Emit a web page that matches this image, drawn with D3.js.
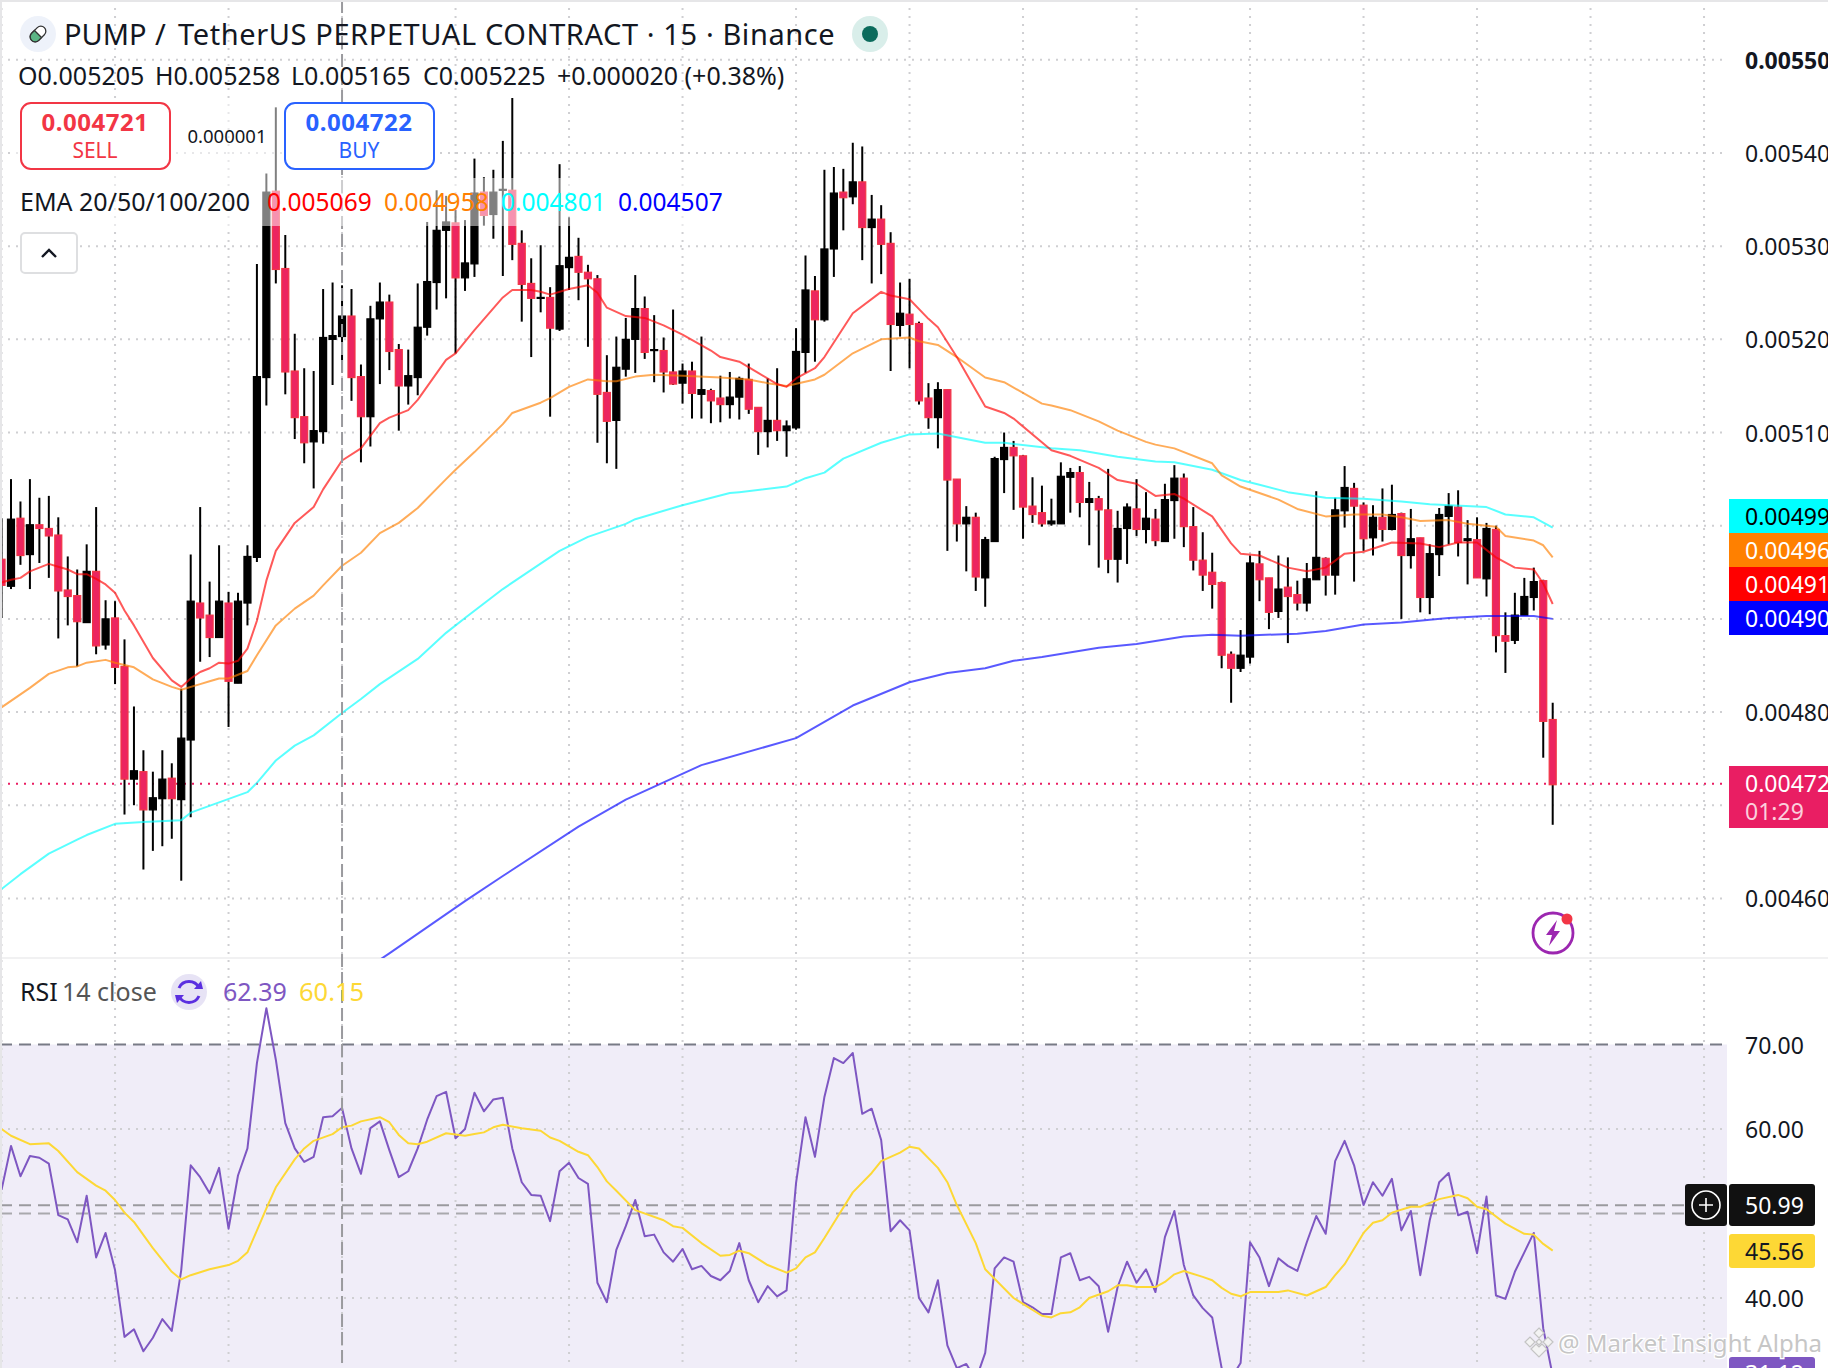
<!DOCTYPE html>
<html>
<head>
<meta charset="utf-8">
<script src="https://cdn.jsdelivr.net/npm/d3@7"></script>
<style>
html, body { margin: 0; padding: 0; background: #fff; overflow: hidden; }
text { font-family: "Noto Sans", sans-serif; }
</style>
</head>
<body>
<script>
// all prices are in millionths, 5400 = 0.005400
var firstBar = -1;
var opens = [4964,4935,5008,4969,5001,4997,4990,4931,4925,4896,4951,4872,4901,4849,4728,4736,4695,4707,4729,4706,4770,4917,4904,4880,4917,4831,4917,4966,5159,5359,5276,5166,5117,5090,5101,5200,5203,5225,5160,5117,5222,5240,5189,5150,5159,5213,5261,5317,5325,5266,5281,5358,5334,5360,5360,5303,5260,5244,5245,5211,5277,5289,5272,5265,5143,5113,5168,5200,5233,5188,5188,5165,5153,5166,5141,5145,5137,5130,5138,5157,5127,5101,5113,5102,5105,5186,5252,5221,5297,5358,5353,5369,5320,5329,5303,5215,5227,5217,5137,5116,5146,5050,5002,5009,4944,4983,5071,5084,5075,5021,5014,5002,5002,5052,5057,5025,5029,5017,4964,4997,5018,4996,5007,4983,5027,5051,4999,4963,4950,4939,4862,4847,4859,4959,4944,4908,4934,4926,4917,4942,4965,4947,5016,5040,5022,4987,5009,4996,5013,4968,4987,4923,4969,5010,5020,4984,4985,4943,4996,4882,4877,4904,4923,4941,4792];
var highs = [5008,5050,5026,5050,5030,5032,5009,4967,4953,4980,5020,4920,4919,4878,4806,4759,4736,4759,4745,4825,4969,5020,4940,4979,4929,4928,4979,5281,5378,5449,5312,5206,5169,5166,5254,5261,5258,5254,5173,5236,5261,5248,5195,5189,5260,5326,5360,5354,5339,5328,5394,5374,5382,5413,5459,5317,5287,5301,5256,5388,5331,5309,5280,5269,5183,5203,5223,5269,5246,5226,5202,5232,5174,5176,5203,5147,5161,5165,5160,5174,5127,5158,5169,5113,5212,5290,5268,5382,5385,5383,5411,5407,5355,5344,5315,5261,5265,5219,5153,5154,5146,5050,5021,5014,4988,5074,5100,5091,5076,5052,5043,5029,5068,5062,5064,5047,5032,5061,5016,5024,5050,5036,5018,5045,5065,5056,5020,4993,4971,4940,4865,4888,4968,4973,4944,4968,4966,4941,4960,5037,4966,5030,5064,5046,5025,5022,5040,5044,5014,5018,4987,4980,5019,5035,5038,5006,5009,5003,5000,4907,4928,4944,4955,4942,4810];
var lows = [4901,4932,4958,4932,4960,4944,4879,4893,4849,4896,4862,4867,4830,4690,4700,4631,4651,4656,4664,4619,4687,4854,4859,4880,4784,4831,4893,4961,5129,5260,5141,5093,5067,5040,5088,5151,5165,5134,5068,5085,5152,5167,5102,5130,5140,5204,5232,5244,5185,5252,5267,5322,5308,5268,5285,5219,5181,5229,5117,5209,5253,5242,5192,5089,5067,5061,5160,5164,5179,5154,5143,5151,5131,5115,5115,5110,5111,5115,5114,5120,5076,5084,5091,5074,5103,5164,5176,5219,5267,5317,5345,5285,5260,5270,5166,5203,5169,5130,5104,5083,4973,4983,4951,4930,4913,4983,5035,5017,4986,5003,4999,5000,5002,5014,5009,4979,4955,4949,4939,4959,4989,4981,4978,4983,4986,4977,4952,4930,4911,4847,4810,4843,4852,4919,4889,4901,4874,4909,4908,4942,4925,4926,4998,4940,4973,4968,4983,4995,4900,4954,4907,4905,4946,4980,4967,4937,4944,4924,4864,4842,4873,4904,4909,4751,4679];
var closes = [4936,5007,4968,5001,4997,4989,4930,4924,4897,4951,4871,4900,4848,4728,4737,4695,4708,4728,4707,4772,4919,4901,4880,4919,4833,4919,4967,5160,5358,5275,5165,5116,5089,5102,5202,5204,5225,5159,5117,5222,5240,5187,5150,5161,5213,5262,5317,5326,5266,5282,5357,5333,5358,5361,5302,5259,5244,5245,5212,5279,5288,5272,5265,5141,5112,5170,5200,5233,5186,5189,5165,5152,5166,5142,5146,5134,5130,5138,5158,5125,5101,5113,5102,5107,5187,5253,5221,5297,5357,5352,5369,5320,5329,5302,5216,5228,5216,5134,5116,5146,5049,5002,5009,4945,4985,5072,5084,5075,5020,5012,5002,5005,5053,5057,5025,5029,5017,4964,4997,5020,4996,5008,4984,5028,5051,4999,4963,4947,4937,4861,4847,4861,4960,4942,4907,4932,4924,4917,4943,4966,4947,5017,5041,5021,4986,5009,4996,5012,4968,4986,4923,4970,5012,5021,4982,4986,4944,4997,4882,4876,4904,4924,4940,4790,4722];
var lastPrice = 4723;

var ema20Bars = [-1,0,1,2,4,5,6,7,8,9,10,11,12,13,15,17,18,19,20,21,22,23,24,25,26,27,28,30,32,33,35,37,39,40,42,43,46,47,49,52,53,55,56,57,59,61,62,63,65,67,69,71,74,75,77,79,81,82,83,85,86,89,92,93,95,97,98,100,103,105,106,110,112,115,117,119,121,123,124,127,129,130,132,135,137,139,141,143,146,149,151,153,155,157,159,161,162,163];
var ema20 = [4939,4942,4944,4951,4959,4956,4953,4948,4948,4943,4937,4928,4909,4893,4858,4834,4827,4836,4843,4847,4853,4852,4855,4868,4898,4941,4973,5003,5020,5039,5070,5083,5110,5116,5124,5135,5178,5185,5210,5245,5253,5253,5251,5248,5254,5258,5250,5234,5225,5223,5215,5205,5188,5181,5176,5164,5152,5149,5158,5169,5181,5228,5251,5247,5243,5222,5213,5181,5128,5121,5115,5081,5075,5062,5049,5045,5032,5034,5029,5010,4981,4970,4968,4955,4951,4955,4970,4972,4982,4981,4977,4982,4982,4966,4955,4953,4938,4916];
var ema50Bars = [-1,2,4,6,7,8,10,11,13,15,17,18,20,21,22,23,25,26,28,30,32,33,35,37,39,41,43,46,47,49,52,53,56,57,59,61,63,64,66,68,71,75,78,80,82,85,86,89,92,95,96,98,100,103,105,109,110,112,115,117,120,121,123,127,128,130,134,136,139,142,145,147,149,152,154,157,158,161,162,163];
var ema50 = [4805,4826,4841,4848,4849,4853,4856,4853,4848,4835,4827,4824,4830,4833,4836,4836,4844,4861,4893,4911,4925,4936,4957,4971,4992,5003,5019,5050,5060,5079,5109,5121,5132,5137,5149,5157,5155,5155,5160,5162,5161,5159,5157,5153,5150,5157,5162,5185,5200,5202,5198,5194,5181,5159,5154,5131,5129,5124,5112,5102,5090,5087,5083,5067,5054,5042,5028,5018,5010,5012,5012,5009,5005,5006,5002,4999,4989,4984,4979,4966];
var ema100Bars = [-1,1,4,7,8,11,14,18,19,22,25,26,28,30,32,35,37,39,43,46,48,52,58,61,65,66,71,76,77,82,84,86,88,92,95,98,103,105,110,113,117,121,123,127,130,132,135,139,143,147,150,156,158,161,163];
var ema100 = [4610,4626,4648,4663,4668,4680,4682,4684,4692,4703,4714,4724,4748,4764,4775,4799,4814,4830,4857,4885,4901,4932,4973,4988,5002,5007,5022,5035,5036,5042,5051,5057,5072,5089,5098,5099,5089,5089,5083,5081,5074,5069,5068,5060,5049,5044,5036,5030,5029,5026,5023,5020,5012,5009,4998];
var ema200Bars = [35,40,48,52,60,65,73,83,89,95,99,103,106,109,115,119,124,127,130,136,139,143,147,150,152,156,161,163];
var ema200 = [4507,4541,4597,4624,4677,4706,4743,4772,4807,4832,4842,4847,4855,4859,4869,4873,4881,4883,4882,4884,4887,4894,4896,4899,4901,4903,4903,4900];

var rsi = [52.8,58.0,54.4,56.8,56.6,55.9,49.8,49.3,46.6,52.1,44.8,47.7,43.3,35.4,36.3,33.7,35.3,37.5,36.1,43.3,55.7,54.3,52.4,55.4,48.2,54.5,57.7,67.8,74.3,68.2,60.7,57.7,56.1,56.7,61.4,61.5,62.5,57.7,54.7,60.1,60.9,57.5,54.3,55.0,57.7,61.1,63.9,64.4,58.9,60.0,64.3,62.1,63.5,63.7,57.7,53.7,52.2,52.1,49.1,55.0,56.0,54.2,53.5,41.8,39.5,45.7,48.5,51.6,47.3,47.5,45.4,44.3,45.8,43.4,43.8,42.6,42.1,43.2,46.5,42.1,39.5,41.4,40.2,40.9,53.6,61.4,56.7,63.8,68.4,67.8,69.0,61.8,62.4,58.7,47.9,49.2,48.0,40.0,38.3,42.1,34.4,31.7,32.2,30.3,33.5,43.5,44.8,44.3,39.5,38.9,38.1,38.1,44.8,45.3,42.1,42.5,41.4,36.0,41.3,44.3,41.8,43.4,40.7,47.2,50.3,43.9,40.3,38.8,37.7,31.7,30.5,32.3,46.6,44.8,41.4,44.7,43.8,43.2,46.6,49.7,47.6,56.2,58.6,55.7,51.0,53.7,52.1,54.1,48.0,50.3,42.7,49.2,53.7,54.8,49.8,50.2,45.3,52.0,40.3,39.9,43.1,45.4,47.7,36.4,30.8];
var rsiMaBars = [-1,0,2,4,5,7,9,10,11,12,13,15,17,18,19,21,23,24,25,27,28,30,31,32,34,35,36,37,39,40,41,42,43,44,46,48,49,50,51,52,54,56,57,58,60,61,62,63,64,66,69,70,71,73,75,76,77,78,80,82,83,84,85,86,87,89,91,92,94,95,96,98,99,100,102,103,106,109,110,111,112,113,114,116,117,118,119,121,122,123,124,126,127,128,129,130,131,134,135,137,138,139,140,141,143,144,145,146,148,149,151,153,154,155,156,158,160,161,162,163];
var rsiMa = [60.0,59.2,58.2,58.3,57.4,54.9,53.3,52.7,51.6,50.1,49.0,45.9,43.1,42.2,42.7,43.4,43.9,44.4,45.4,50.6,53.1,56.4,57.7,58.6,59.4,60.2,60.4,60.9,61.4,60.8,59.3,58.3,58.2,58.5,59.5,59.2,59.4,59.6,60.2,60.5,60.1,59.8,59.0,58.6,57.3,56.9,55.5,53.8,52.7,50.4,49.2,48.5,48.3,46.5,45.0,45.1,45.6,45.3,43.9,43.0,43.5,44.8,45.4,47.1,48.9,52.5,54.8,56.2,57.2,57.9,57.7,55.4,53.7,51.0,46.5,43.4,40.0,37.9,37.7,38.2,38.3,38.9,40.0,40.8,41.5,41.5,41.3,41.3,41.9,42.8,43.2,42.5,42.1,41.2,40.5,40.2,40.7,40.7,40.9,40.3,40.8,41.3,42.7,44.0,47.7,48.9,49.2,50.1,50.8,50.8,51.7,52.2,51.8,50.8,50.5,48.8,47.6,47.5,46.4,45.6];

var priceTicks = [4600,4800,5100,5200,5300,5400,5500];
var priceGrid = [4600,4700,4800,4900,5000,5100,5200,5300,5400,5500];
var rsiTicks = [70,60,40];
var rsiGrid = [60,40];
var emaTagLabels = ["0.00499","0.00496","0.00491","0.00490"];
var emaTagFills = ["#00ffff","#ff8000","#ff0000","#0000ff"];
var emaTagText = ["#000","#fff","#fff","#fff"];

var W = 1828, H = 1368;
var paneBottom = 958, axisLeft = 1727;

var svg = d3.select("body").append("svg").attr("width", W).attr("height", H).style("display", "block");
var defs = svg.append("defs");
defs.append("clipPath").attr("id", "pricePane").append("rect").attr("x", 2).attr("y", 0).attr("width", axisLeft - 2).attr("height", paneBottom);
defs.append("clipPath").attr("id", "rsiPane").append("rect").attr("x", 2).attr("y", paneBottom).attr("width", axisLeft - 2).attr("height", H - paneBottom);

var bars = d3.range(firstBar, firstBar + opens.length);
var x = d3.scaleLinear().domain([-1, 163]).range([1.54, 1552.7]);
var y = d3.scaleLinear().domain([4600, 5400]).range([898.4, 153]);
var yRsi = d3.scaleLinear().domain([40, 70]).range([1298, 1044.5]);

// band first, grid goes on top of it
svg.append("rect").attr("x", 2).attr("y", yRsi(70)).attr("width", axisLeft - 2).attr("height", H - yRsi(70)).attr("fill", "#f0edf8");

var gridBars = d3.range(-1, 190, 12);
var grid = svg.append("g").attr("stroke", "#cfcfd2").attr("stroke-width", 2).attr("stroke-dasharray", "2 6");
grid.selectAll("line.v").data(gridBars).enter().append("line").attr("class", "v")
    .attr("x1", d => x(d)).attr("x2", d => x(d)).attr("y1", 0).attr("y2", H);
grid.selectAll("line.h").data(priceGrid).enter().append("line").attr("class", "h")
    .attr("x1", 0).attr("x2", axisLeft).attr("y1", d => y(d)).attr("y2", d => y(d));
grid.selectAll("line.r").data(rsiGrid).enter().append("line").attr("class", "r")
    .attr("x1", 0).attr("x2", axisLeft).attr("y1", d => yRsi(d)).attr("y2", d => yRsi(d));

// pane divider
svg.append("line").attr("x1", 0).attr("x2", W).attr("y1", paneBottom).attr("y2", paneBottom).attr("stroke", "#ececee").attr("stroke-width", 1.5);

// last price line
svg.append("line").attr("x1", 0).attr("x2", axisLeft).attr("y1", y(lastPrice)).attr("y2", y(lastPrice))
    .attr("stroke", "#e91e63").attr("stroke-width", 2).attr("stroke-dasharray", "2 6");

// rsi levels
svg.append("line").attr("x1", 0).attr("x2", axisLeft).attr("y1", yRsi(70)).attr("y2", yRsi(70)).attr("stroke", "#787b86").attr("stroke-width", 2).attr("stroke-dasharray", "12 7");
svg.append("line").attr("x1", 0).attr("x2", axisLeft).attr("y1", yRsi(50)).attr("y2", yRsi(50)).attr("stroke", "#a9a9ad").attr("stroke-width", 2).attr("stroke-dasharray", "12 7");
svg.append("line").attr("x1", 0).attr("x2", axisLeft).attr("y1", yRsi(50.99)).attr("y2", yRsi(50.99)).attr("stroke", "#9a9a9e").attr("stroke-width", 2).attr("stroke-dasharray", "12 7");

// candles
var candles = svg.append("g").attr("clip-path", "url(#pricePane)");
var candle = candles.selectAll("g").data(bars).enter().append("g");
candle.append("line")
    .attr("x1", d => x(d)).attr("x2", d => x(d))
    .attr("y1", (d, i) => y(highs[i])).attr("y2", (d, i) => y(lows[i]))
    .attr("stroke", "#000").attr("stroke-width", 2);
candle.append("rect")
    .attr("x", d => x(d) - 3.5).attr("width", 7)
    .attr("y", (d, i) => y(Math.max(opens[i], closes[i])))
    .attr("height", (d, i) => Math.max(1, Math.abs(y(opens[i]) - y(closes[i]))))
    .attr("fill", (d, i) => closes[i] < opens[i] ? "#ec2560" : "#000")
    .attr("stroke", (d, i) => closes[i] < opens[i] ? "#f23645" : "#000")
    .attr("stroke-width", 1.2);

// moving averages
var line = d3.line().x(d => x(d[0])).y(d => y(d[1]));
var emaGroup = svg.append("g").attr("clip-path", "url(#pricePane)").attr("fill", "none").attr("stroke-width", 2).attr("stroke-linejoin", "round");
emaGroup.append("path").attr("d", line(d3.zip(ema200Bars, ema200))).attr("stroke", "rgba(0,0,255,0.65)");
emaGroup.append("path").attr("d", line(d3.zip(ema100Bars, ema100))).attr("stroke", "rgba(0,255,255,0.65)");
emaGroup.append("path").attr("d", line(d3.zip(ema50Bars, ema50))).attr("stroke", "rgba(255,128,0,0.65)");
emaGroup.append("path").attr("d", line(d3.zip(ema20Bars, ema20))).attr("stroke", "rgba(255,0,0,0.65)");

// rsi lines
var rsiLine = d3.line().x(d => x(d[0])).y(d => yRsi(d[1]));
var rsiGroup = svg.append("g").attr("clip-path", "url(#rsiPane)").attr("fill", "none").attr("stroke-width", 2).attr("stroke-linejoin", "round");
rsiGroup.append("path").attr("d", rsiLine(d3.zip(bars, rsi))).attr("stroke", "#7e57c2");
rsiGroup.append("path").attr("d", rsiLine(d3.zip(rsiMaBars, rsiMa))).attr("stroke", "#fdd835");

// crosshair
svg.append("line").attr("x1", x(35)).attr("x2", x(35)).attr("y1", 0).attr("y2", H)
    .attr("stroke", "#9a9a9e").attr("stroke-width", 2).attr("stroke-dasharray", "13 5");

// window border
svg.append("rect").attr("x", 0).attr("y", 0).attr("width", 2).attr("height", H).attr("fill", "#e6e6e8");
svg.append("rect").attr("x", 0).attr("y", 0).attr("width", W).attr("height", 2).attr("fill", "#e6e6e8");

// legend veils dim the candles that run behind the header
var veil = svg.append("g").attr("fill", "rgba(255,255,255,0.5)");
veil.append("rect").attr("x", 15).attr("y", 178).attr("width", 712).attr("height", 48);
veil.append("rect").attr("x", 15).attr("y", 100).attr("width", 270).attr("height", 78);

function label(g, s, px, py, size, color, weight, anchor) {
    return g.append("text").attr("x", px).attr("y", py).attr("font-size", size).attr("fill", color)
        .attr("font-weight", weight || 400).attr("text-anchor", anchor || "start").text(s);
}

// header
var head = svg.append("g");
head.append("circle").attr("cx", 38).attr("cy", 34).attr("r", 18).attr("fill", "#eef2fa");
var pill = head.append("g").attr("transform", "translate(38,34) rotate(-45)");
pill.append("rect").attr("x", -9).attr("y", -5).attr("width", 18).attr("height", 10).attr("rx", 5).attr("fill", "#fff").attr("stroke", "#333").attr("stroke-width", 1.3);
pill.append("path").attr("d", "M0,-5 L-4,-5 A5,5 0 0 0 -4,5 L0,5 Z").attr("fill", "#5cb585").attr("stroke", "#333").attr("stroke-width", 1.3);
label(head, "PUMP", 64, 45, 29, "#131722");
label(head, "/", 155, 45, 29, "#131722");
label(head, "TetherUS PERPETUAL CONTRACT · 15 · Binance", 178, 45, 29, "#131722").attr("letter-spacing", 0.6);
head.append("circle").attr("cx", 870).attr("cy", 34).attr("r", 18).attr("fill", "#d9eeea");
head.append("circle").attr("cx", 870).attr("cy", 34).attr("r", 8).attr("fill", "#0b6b5c");

label(head, "O0.005205", 18, 85, 25, "#131722");
label(head, "H0.005258", 155, 85, 25, "#131722");
label(head, "L0.005165", 291, 85, 25, "#131722");
label(head, "C0.005225", 423, 85, 25, "#131722");
label(head, "+0.000020 (+0.38%)", 557, 85, 25, "#131722");

head.append("rect").attr("x", 21).attr("y", 103).attr("width", 149).attr("height", 66).attr("rx", 10).attr("fill", "#fff").attr("stroke", "#f23645").attr("stroke-width", 2);
label(head, "0.004721", 95, 131, 24, "#f23645", 700, "middle").attr("letter-spacing", 0.5);
label(head, "SELL", 95, 158, 21, "#f23645", 400, "middle");
label(head, "0.000001", 227, 143, 18.5, "#131722", 400, "middle");
head.append("rect").attr("x", 285).attr("y", 103).attr("width", 149).attr("height", 66).attr("rx", 10).attr("fill", "#fff").attr("stroke", "#2962ff").attr("stroke-width", 2);
label(head, "0.004722", 359, 131, 24, "#2962ff", 700, "middle").attr("letter-spacing", 0.5);
label(head, "BUY", 359, 158, 21, "#2962ff", 400, "middle");

label(head, "EMA 20/50/100/200", 20, 211, 25, "#131722");
label(head, "0.005069", 267, 211, 24.5, "#ff0000");
label(head, "0.004958", 384, 211, 24.5, "#ff8000");
label(head, "0.004801", 501, 211, 24.5, "#00ffff");
label(head, "0.004507", 618, 211, 24.5, "#0000ff");

head.append("rect").attr("x", 21).attr("y", 233).attr("width", 56).attr("height", 40).attr("rx", 4).attr("fill", "#fff").attr("stroke", "#dedfe1").attr("stroke-width", 2);
head.append("path").attr("d", "M42,257 L49,250 L56,257").attr("fill", "none").attr("stroke", "#131722").attr("stroke-width", 2.4);

// rsi legend
label(head, "RSI", 20, 1001, 25, "#131722");
label(head, "14 close", 62, 1001, 25, "#555");
head.append("circle").attr("cx", 189).attr("cy", 992).attr("r", 18).attr("fill", "#e7e3f5");
head.append("path").attr("d", "M179,988 A11,11 0 0 1 199,988 M199,996 A11,11 0 0 1 179,996").attr("fill", "none").attr("stroke", "#5b2fe0").attr("stroke-width", 3);
head.append("path").attr("d", "M194,989 L203,989 L201,981 Z M184,995 L175,995 L177,1003 Z").attr("fill", "#5b2fe0");
label(head, "62.39", 223, 1001, 25, "#7e57c2");
label(head, "60.15", 299, 1001, 25.5, "#fdd835");

// price axis
var axis = svg.append("g");
priceTicks.forEach(function (t) {
    label(axis, (t / 1e6).toFixed(5), 1745, y(t) + 9, 23, "#131722", t == 5500 ? 700 : 400);
});
emaTagLabels.forEach(function (t, i) {
    axis.append("rect").attr("x", 1729).attr("y", 499 + i * 34).attr("width", 99).attr("height", 34).attr("fill", emaTagFills[i]);
    label(axis, t, 1745, 525 + i * 34, 23, emaTagText[i]);
});
axis.append("rect").attr("x", 1729).attr("y", 766).attr("width", 99).attr("height", 62).attr("fill", "#e91e63");
label(axis, "0.00472", 1745, 792, 23, "#fff");
label(axis, "01:29", 1745, 820, 23, "#fbcfdc");

// rsi axis
rsiTicks.forEach(function (t) {
    label(axis, t.toFixed(2), 1745, yRsi(t) + 9, 23, "#131722");
});
axis.append("rect").attr("x", 1685).attr("y", 1184).attr("width", 42).attr("height", 42).attr("rx", 3).attr("fill", "#111");
axis.append("rect").attr("x", 1729).attr("y", 1184).attr("width", 86).attr("height", 42).attr("rx", 3).attr("fill", "#111");
axis.append("circle").attr("cx", 1706).attr("cy", 1205).attr("r", 14).attr("fill", "none").attr("stroke", "#fff").attr("stroke-width", 1.6);
axis.append("path").attr("d", "M1699,1205 H1713 M1706,1198 V1212").attr("stroke", "#fff").attr("stroke-width", 1.6);
label(axis, "50.99", 1745, 1214, 23, "#fff");
axis.append("rect").attr("x", 1729).attr("y", 1234).attr("width", 86).attr("height", 34).attr("rx", 3).attr("fill", "#fdd835");
label(axis, "45.56", 1745, 1260, 23, "#131722");
axis.append("rect").attr("x", 1729).attr("y", 1357).attr("width", 86).attr("height", 34).attr("rx", 3).attr("fill", "#7e57c2");
label(axis, "31.12", 1745, 1382, 23, "#fff");

// lightning badge
var bolt = svg.append("g").attr("transform", "translate(1553,933)");
bolt.append("circle").attr("r", 20).attr("fill", "#fff").attr("stroke", "#9c27b0").attr("stroke-width", 2.8);
bolt.append("path").attr("d", "M4,-13 L-7,2 L-1,2 L-4,13 L7,-2 L1,-2 Z").attr("fill", "#9c27b0");
bolt.append("circle").attr("cx", 14).attr("cy", -14).attr("r", 5.5).attr("fill", "#f23645");

// watermark
var mark = svg.append("g").attr("transform", "translate(1539,1342)");
mark.append("path").attr("d", "M0,-14 L5,-9 L0,-4 L-5,-9 Z M-14,0 L-9,-5 L-4,0 L-9,5 Z M14,0 L9,-5 L4,0 L9,5 Z M0,-3 L3,0 L0,3 L-3,0 Z M-8,7 L-3,2 L0,5 L3,2 L8,7 L0,15 Z")
    .attr("fill", "#f3f3f3").attr("stroke", "#c4c4c4").attr("stroke-width", 1.2);
var wm = svg.append("g");
label(wm, "@ Market Insight Alpha", 1558, 1352, 24, "#c6c6c6").attr("stroke", "#fff").attr("stroke-width", 2.5).attr("paint-order", "stroke");
</script>
</body>
</html>
